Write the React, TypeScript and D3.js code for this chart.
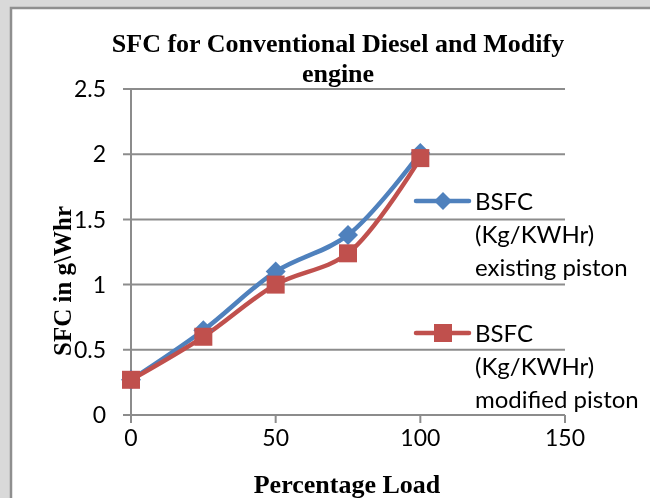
import * as d3 from 'd3';

const LOADS = [0, 25, 50, 75, 100];
const EXISTING = [0.27, 0.65, 1.1, 1.38, 2.01];
const MODIFIED = [0.27, 0.6, 1.0, 1.24, 1.97];
const X_TICKS = [0, 50, 100, 150];
const Y_TICKS = [0, 0.5, 1, 1.5, 2, 2.5];
const LEGEND = [
  ['BSFC', '(Kg/KWHr)', 'existing piston'],
  ['BSFC', '(Kg/KWHr)', 'modified piston'],
];

const VW = 650;
const VH = 498;
const BLUE = '#4f81bd';
const RED = '#c0504d';
const GRID = '#8c8c8c';
const SANS = 'Lato, "Open Sans", sans-serif';
const SERIF = '"Liberation Serif", "Times New Roman", serif';

const x = d3.scaleLinear().domain([0, 150]).range([131, 565]);
const y = d3.scaleLinear().domain([0, 2.5]).range([415, 89]);

const line = d3.line<number>()
  .x((_, i) => x(LOADS[i]))
  .y(d => y(d))
  .curve(d3.curveCatmullRom.alpha(0.5));

export default function App() {
  return (
    <div style={{ position: 'fixed', left: 0, top: 0 }}>
      <svg width={VW} height={VH} viewBox={`0 0 ${VW} ${VH}`} style={{ display: 'block' }}>
        <rect x={0} y={0} width={VW} height={VH} fill="#d9d9d9" />
        <rect x={11} y={8} width={VW} height={VH} fill="#fff" stroke="#8f8f8f" strokeWidth={2.5} />

        <text x={338} y={52} textAnchor="middle" fontFamily={SERIF} fontWeight={700} fontSize={26} fill="#000">
          SFC for Conventional Diesel and Modify
        </text>
        <text x={338} y={82} textAnchor="middle" fontFamily={SERIF} fontWeight={700} fontSize={26} fill="#000">
          engine
        </text>

        {Y_TICKS.map(t => (
          <g key={`y${t}`}>
            <line x1={123} x2={x(150)} y1={y(t)} y2={y(t)} stroke={GRID} strokeWidth={2} />
            <text x={106} y={y(t)} dy="0.36em" textAnchor="end" fontFamily={SANS} fontSize={23} fill="#000">
              {t}
            </text>
          </g>
        ))}
        <line x1={x(0)} x2={x(0)} y1={y(2.5)} y2={423} stroke={GRID} strokeWidth={2} />
        {X_TICKS.map(t => (
          <g key={`x${t}`}>
            <line x1={x(t)} x2={x(t)} y1={y(0)} y2={423} stroke={GRID} strokeWidth={2} />
            <text x={x(t)} y={446} textAnchor="middle" fontFamily={SANS} fontSize={23} fill="#000">
              {t}
            </text>
          </g>
        ))}

        <text x={347} y={493} textAnchor="middle" fontFamily={SERIF} fontWeight={700} fontSize={26} fill="#000">
          Percentage Load
        </text>
        <text transform={`translate(71, 281) rotate(-90)`} textAnchor="middle" fontFamily={SERIF}
          fontWeight={700} fontSize={25} fill="#000">
          SFC in g\Whr
        </text>

        <path d={line(EXISTING) ?? ''} fill="none" stroke={BLUE} strokeWidth={4.5} strokeLinejoin="round" />
        <path d={line(MODIFIED) ?? ''} fill="none" stroke={RED} strokeWidth={4.5} strokeLinejoin="round" />
        {EXISTING.map((v, i) => (
          <path key={`d${i}`} transform={`translate(${x(LOADS[i])}, ${y(v)})`}
            d="M0,-10L10,0L0,10L-10,0Z" fill={BLUE} />
        ))}
        {MODIFIED.map((v, i) => (
          <rect key={`s${i}`} x={x(LOADS[i]) - 9} y={y(v) - 9} width={18} height={18} fill={RED} />
        ))}

        {LEGEND.map((lines, k) => {
          const cy = 201 + k * 132;
          return (
            <g key={`lg${k}`}>
              <line x1={416} x2={469} y1={cy} y2={cy} stroke={k === 0 ? BLUE : RED} strokeWidth={4.5}
                strokeLinecap="round" />
              {k === 0
                ? <path transform={`translate(443, ${cy})`} d="M0,-9L9,0L0,9L-9,0Z" fill={BLUE} />
                : <rect x={434} y={cy - 9} width={18} height={18} fill={RED} />}
              {lines.map((s, j) => (
                <text key={j} x={475} y={cy + j * 33} dy="0.36em" fontFamily={SANS} fontSize={24} fill="#000">
                  {s}
                </text>
              ))}
            </g>
          );
        })}
      </svg>
    </div>
  );
}
